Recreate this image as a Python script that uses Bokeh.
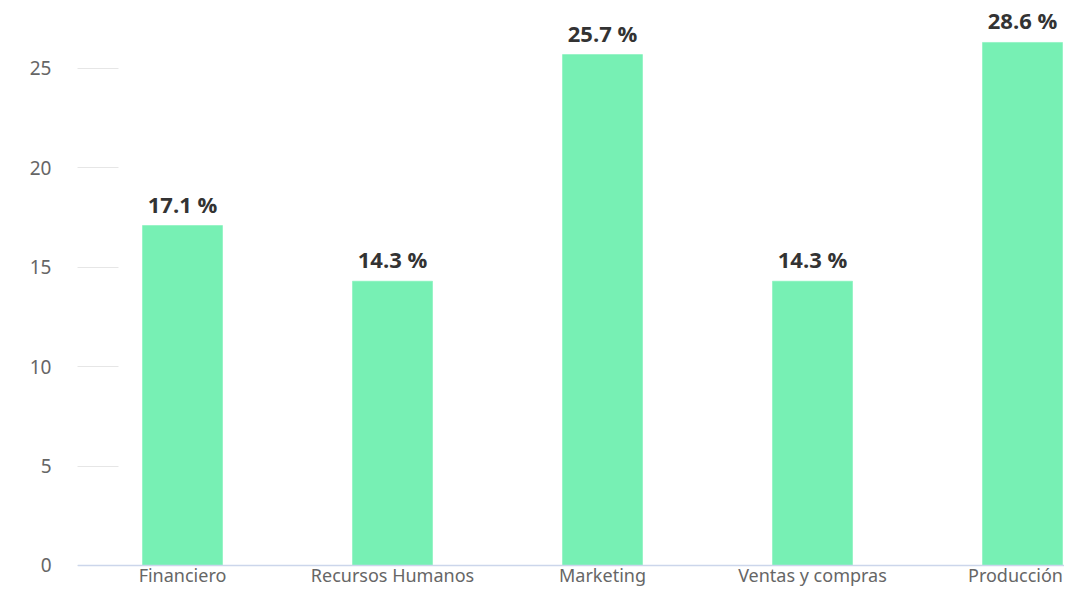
from bokeh.plotting import figure
from bokeh.models import ColumnDataSource, LabelSet, Range1d, FixedTicker, Span
from bokeh.core.properties import value
from bokeh.embed import file_html
from bokeh.resources import INLINE

categories = ["Financiero", "Recursos Humanos", "Marketing", "Ventas y compras", "Producción"]
values = [17.1, 14.3, 25.7, 14.3, 28.6]
y_ticks = [0, 5, 10, 15, 20, 25]

# visible y extent of the plot area in the original (the tallest bar is cut off there)
Y_CAP = 26.31
Y_START = -1.11
Y_END = 28.42
X_END = 4.2

xs = list(range(len(categories)))
bar_top = [min(v, Y_CAP) for v in values]
labels = [f"{v:.1f} %" for v in values]
zeros = [0] * len(categories)
# the last category label is nudged left to stay inside the chart, as in the original
cat_dx = [0, 0, 0, 0, -7]

src = ColumnDataSource(dict(x=xs, top=bar_top, txt=labels, cat=categories,
                            zero=zeros, dx=cat_dx))

p = figure(width=1064, height=587, output_backend="svg", toolbar_location=None,
           x_range=Range1d(-0.5, X_END), y_range=Range1d(Y_START, Y_END),
           x_axis_location=None,
           min_border_left=77, min_border_right=0, min_border_top=0, min_border_bottom=0)
p.outline_line_color = None
p.background_fill_color = "white"
p.border_fill_color = "white"
p.xgrid.visible = False
p.ygrid.visible = False

p.vbar(x="x", top="top", width=0.381, bottom=0, source=src,
       fill_color="#77f0b4", line_color="#77f0b4", line_width=0.5)

# category axis line
p.add_layout(Span(location=0, dimension="width", line_color="#ccd6eb", line_width=1.5))

# value labels
ls = LabelSet(x="x", y="top", text="txt", source=src, text_align="center",
              text_baseline="alphabetic", y_offset=13, text_font=value("Open Sans"),
              text_font_style="bold", text_font_size="22px", text_color="#333333")
p.add_layout(ls)

# category labels
cl = LabelSet(x="x", y="zero", text="cat", source=src, text_align="center",
              text_baseline="alphabetic", x_offset="dx", y_offset=-17,
              text_font=value("Noto Sans"),
              text_font_size="18px", text_color="#666666")
p.add_layout(cl)

# y axis: ticks drawn inward act as the short grid lines of the original
ya = p.yaxis[0]
ya.ticker = FixedTicker(ticks=y_ticks)
ya.axis_line_color = None
ya.major_tick_in = 41
ya.major_tick_out = 0
ya.major_tick_line_color = "#e6e6e6"
ya.major_tick_line_width = 1
ya.minor_tick_line_color = None
ya.major_label_standoff = 26
ya.major_label_text_font = "Noto Sans"
ya.major_label_text_font_size = "19px"
ya.major_label_text_color = "#666666"

open("out.html", "w").write(file_html(p, INLINE))
